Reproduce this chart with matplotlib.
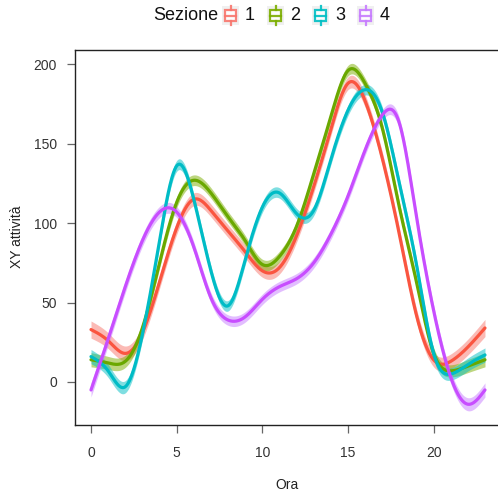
import numpy as np
import matplotlib
matplotlib.use("Agg")
import matplotlib.pyplot as plt
from matplotlib.patches import Rectangle
from matplotlib.lines import Line2D

plt.rcParams['font.family'] = ['Liberation Sans', 'DejaVu Sans']

# ---- data ----
hours = list(range(24))
sezione = ["1", "2", "3", "4"]
s1 = [33, 26, 18, 31, 63, 97, 115, 108, 95, 82, 70, 72, 92, 123, 159, 188, 177, 141, 93, 42, 14, 13, 22, 34]
s2 = [14, 12, 13, 34, 75, 113, 127, 119, 104, 89, 74, 79, 98, 131, 167, 196, 188, 160, 110, 63, 18, 7, 10, 14]
s3 = [16, 7, -3, 30, 89, 136, 115, 70, 48, 77, 110, 119, 106, 108, 140, 171, 184, 170, 125, 74, 18, 5, 11, 17]
s4 = [-5, 27, 60, 89, 107, 107, 85, 53, 39, 41, 52, 60, 65, 75, 93, 117, 146, 168, 163, 104, 45, 3, -14, -5]
series = [s1, s2, s3, s4]
band = [4.0, 3.3, 3.3, 3.3]  # approx. half-width of confidence ribbon

line_colors = ['#FA5540', '#6AA800', '#00BCC6', '#C84DFF']
fill_colors = ['#F8766D', '#7CAE00', '#00BFC4', '#C77CFF']

xticks = [0, 5, 10, 15, 20]
yticks = [0, 50, 100, 150, 200]


def natural_spline(x, y, xs):
    x = np.asarray(x, float); y = np.asarray(y, float)
    n = len(x)
    h = np.diff(x)
    A = np.zeros((n, n)); b = np.zeros(n)
    A[0, 0] = 1; A[-1, -1] = 1
    for i in range(1, n - 1):
        A[i, i - 1] = h[i - 1]
        A[i, i] = 2 * (h[i - 1] + h[i])
        A[i, i + 1] = h[i]
        b[i] = 6 * ((y[i + 1] - y[i]) / h[i] - (y[i] - y[i - 1]) / h[i - 1])
    M = np.linalg.solve(A, b)
    idx = np.clip(np.searchsorted(x, xs) - 1, 0, n - 2)
    x0 = x[idx]; x1 = x[idx + 1]; hh = x1 - x0
    a = (x1 - xs) / hh; bb = (xs - x0) / hh
    return (a * y[idx] + bb * y[idx + 1]
            + ((a ** 3 - a) * M[idx] + (bb ** 3 - bb) * M[idx + 1]) * hh ** 2 / 6)


W, H = 498, 495
fig = plt.figure(figsize=(W / 100, H / 100), dpi=100)
L, R, T, B = 75, 498, 50, 425
ax = fig.add_axes([L / W, 1 - B / H, (R - L) / W, (B - T) / H])

xs = np.linspace(0, 23, 600)
edge = 1 + 0.35 * (np.abs(xs - 11.5) / 11.5) ** 4
for y, c, fc, bw in zip(series, line_colors, fill_colors, band):
    ys = natural_spline(hours, y, xs)
    ax.fill_between(xs, ys - bw * edge, ys + bw * edge, color=fc, alpha=0.5, lw=0)
for y, c in zip(series, line_colors):
    ys = natural_spline(hours, y, xs)
    ax.plot(xs, ys, color=c, lw=2.3, solid_capstyle='round')

x_per_px = 17.13
ax.set_xlim(-0.934, -0.934 + (R - L) / x_per_px)
ax.set_ylim(-27.07, 209.0)
ax.set_xticks(xticks)
ax.set_yticks(yticks)
ax.tick_params(axis='both', direction='out', length=6, width=0.9, color='#666666',
               labelcolor='#333333', labelsize=10)
ax.tick_params(axis='x', pad=9)
ax.tick_params(axis='y', pad=7)
for sp in ['left', 'bottom', 'top']:
    ax.spines[sp].set_color('#222222')
    ax.spines[sp].set_linewidth(1.0)
ax.spines['right'].set_visible(False)

fig.text(287 / W, 1 - 485 / H, 'Ora', ha='center', va='center', fontsize=10, color='#222222')
fig.text(17 / W, 1 - 237 / H, 'XY attività', ha='center', va='center', rotation=90,
         fontsize=10, color='#222222')

# ---- legend ----
def px(x, y):
    return x / W, 1 - y / H

ly = 16
fig.text(*px(153, ly), 'Sezione', ha='left', va='center', fontsize=13, color='#111111')
key_x = [222, 267, 312, 357]
for kx, lab, fc in zip(key_x, sezione, fill_colors):
    x0, y0 = px(kx, 25)
    fig.patches.append(Rectangle((x0, y0), 17 / W, 19 / H, transform=fig.transFigure,
                                 facecolor='#F0F0F0', edgecolor='none'))
    bx0, by0 = px(kx + 3, 21)
    fig.patches.append(Rectangle((bx0, by0), 11 / W, 11 / H, transform=fig.transFigure,
                                 facecolor='white', edgecolor=fc, lw=1.6, alpha=0.9))
    cx = kx + 8.5
    fig.lines.append(Line2D([px(kx + 3, 0)[0], px(kx + 14, 0)[0]], [px(0, 15.5)[1]] * 2,
                            transform=fig.transFigure, color=fc, lw=1.6, alpha=0.9))
    fig.lines.append(Line2D([px(cx, 0)[0]] * 2, [px(0, 6)[1], px(0, 10)[1]],
                            transform=fig.transFigure, color=fc, lw=1.6, alpha=0.9))
    fig.lines.append(Line2D([px(cx, 0)[0]] * 2, [px(0, 21)[1], px(0, 25)[1]],
                            transform=fig.transFigure, color=fc, lw=1.6, alpha=0.9))
    fig.text(*px(kx + 28, ly), lab, ha='center', va='center', fontsize=13, color='#111111')

fig.savefig('out.png', dpi=100)
